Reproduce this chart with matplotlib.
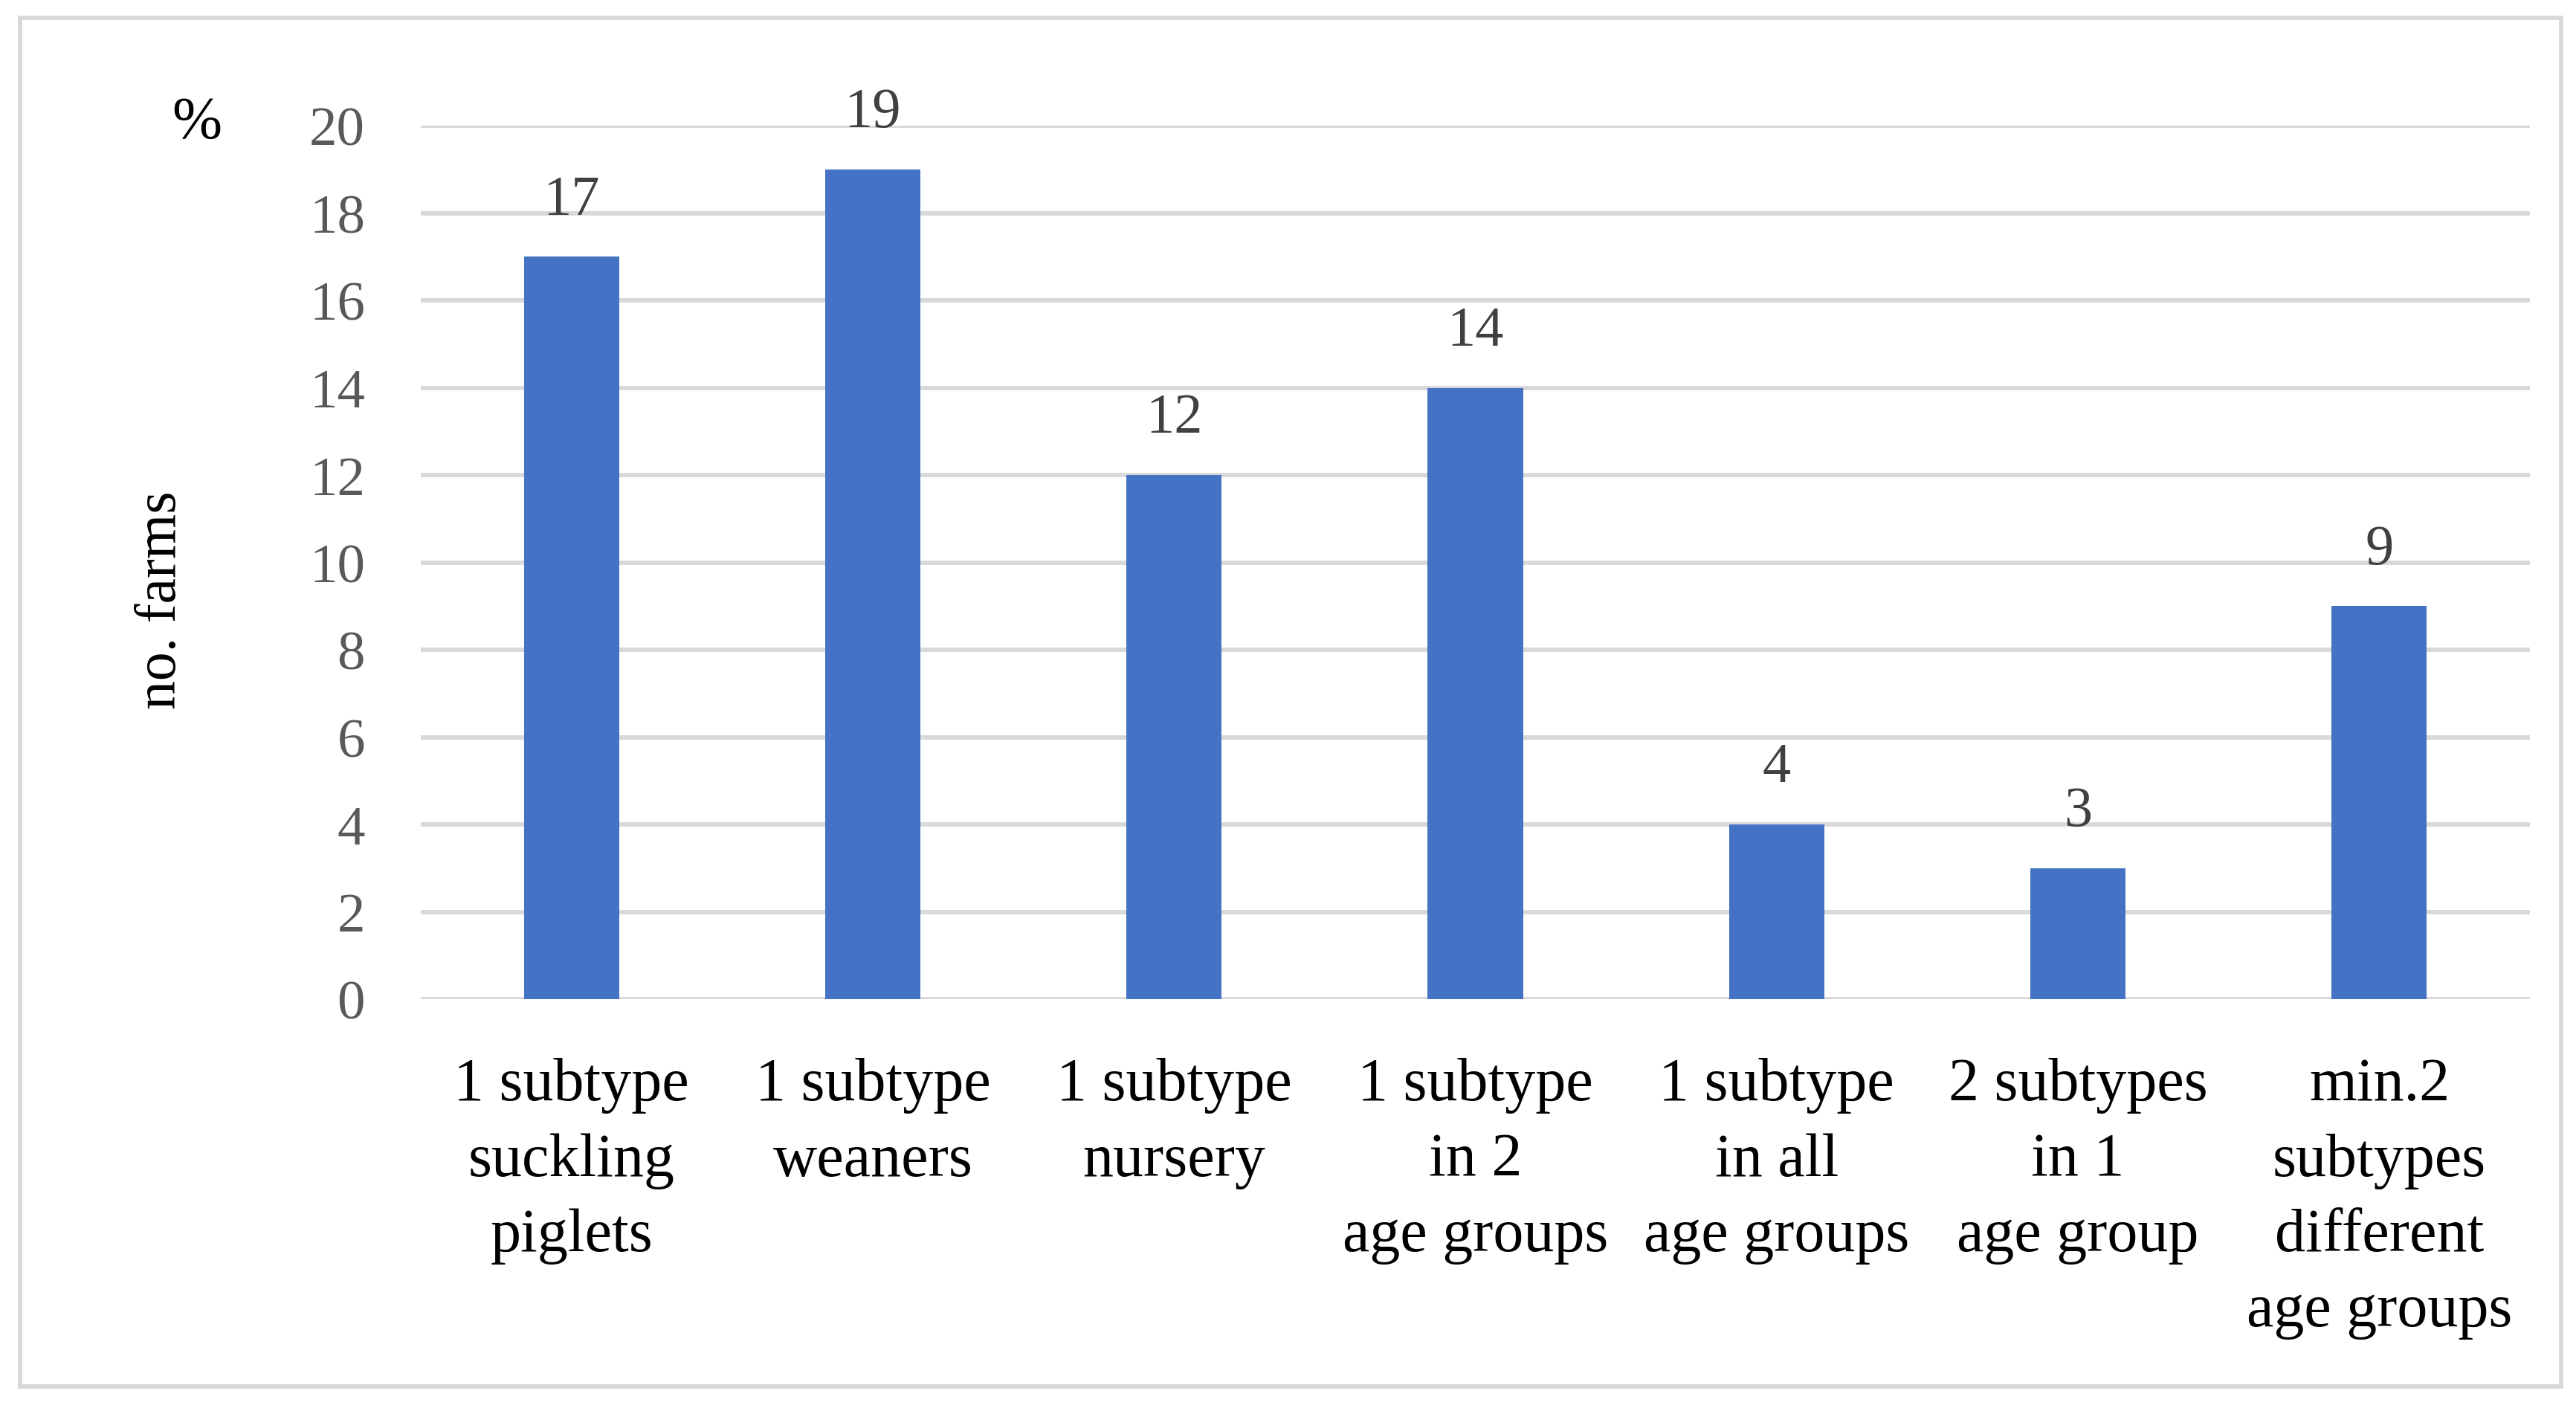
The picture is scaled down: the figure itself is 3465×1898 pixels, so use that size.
import numpy as np
import matplotlib.pyplot as plt
from matplotlib.patches import Rectangle

# data
categories = ['1 subtype\nsuckling\npiglets', '1 subtype\nweaners', '1 subtype\nnursery',
              '1 subtype\nin 2\nage groups', '1 subtype\nin all\nage groups',
              '2 subtypes\nin 1\nage group', 'min.2\nsubtypes\ndifferent\nage groups']
farms = [17, 19, 12, 14, 4, 3, 9]
yticks = [0, 2, 4, 6, 8, 10, 12, 14, 16, 18, 20]

plt.rcParams['font.family'] = ['Liberation Serif', 'DejaVu Serif']

W, H = 3466, 1899
fig = plt.figure(figsize=(W / 100, H / 100), dpi=100)

# outer chart frame
fig.patches.append(Rectangle((27 / W, 1 - 1866 / H), (3445 - 27) / W, (1866 - 25) / H,
                             transform=fig.transFigure, fill=False,
                             edgecolor='#D9D9D9', linewidth=4.3))

ax = fig.add_axes([566 / W, 1 - 1345 / H, (3403 - 566) / W, (1345 - 170) / H])

x = np.arange(len(farms))
bars = ax.bar(x, farms, width=0.316, color='#4472C4', zorder=3)

for xi, v in zip(x, farms):
    ax.annotate(str(v), (xi, v), xytext=(0, 30), textcoords='offset points',
                ha='center', va='bottom', fontsize=55, color='#404040', clip_on=False)

ax.set_xlim(-0.5, len(farms) - 0.5)
ax.set_ylim(0, 20)
ax.set_yticks(yticks)
ax.set_yticklabels([str(t) for t in yticks], fontsize=54, color='#595959')
ax.set_xticks(x)
ax.set_xticklabels(categories, fontsize=59, color='black', linespacing=1.45)
ax.tick_params(axis='both', length=0)
ax.tick_params(axis='y', pad=54)
ax.tick_params(axis='x', pad=56)

ax.grid(axis='y', color='#D9D9D9', linewidth=4.3, zorder=0)
for s in ax.spines.values():
    s.set_visible(False)

fig.text(265 / W, 1 - 166 / H, '%', fontsize=58, ha='center', va='center', color='black')
fig.text(217 / W, 1 - 807 / H, 'no. farms', fontsize=56, ha='center', va='center',
         rotation=90, color='black')

fig.savefig('out.png', dpi=100, facecolor='white')
